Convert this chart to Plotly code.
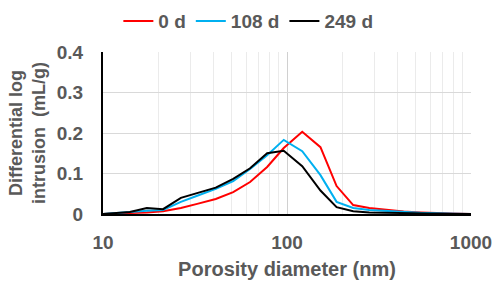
import plotly.graph_objects as go

diameter_nm = [10, 11.9, 14, 17.3, 21.2, 26.5, 32.5, 41, 51, 63, 78, 96, 121, 152, 186, 229, 280, 350, 430, 530, 650, 800, 1000]
series_names = ["0 d", "108 d", "249 d"]
d0 = [0, 0.001, 0.002, 0.004, 0.007, 0.015, 0.025, 0.037, 0.054, 0.079, 0.116, 0.163, 0.203, 0.165, 0.069, 0.022, 0.015, 0.010, 0.006, 0.004, 0.002, 0.001, 0]
d108 = [0, 0.003, 0.005, 0.008, 0.010, 0.030, 0.045, 0.062, 0.081, 0.111, 0.145, 0.183, 0.155, 0.096, 0.030, 0.015, 0.010, 0.007, 0.005, 0.003, 0.002, 0.001, 0]
d249 = [0, 0.003, 0.005, 0.015, 0.012, 0.040, 0.052, 0.065, 0.087, 0.113, 0.150, 0.156, 0.118, 0.058, 0.017, 0.007, 0.004, 0.003, 0.002, 0.001, 0.001, 0, 0]
colors = ["#FF0000", "#00B0F0", "#000000"]

fig = go.Figure()
for name, ys, c in zip(series_names, [d0, d108, d249], colors):
    fig.add_trace(go.Scatter(x=diameter_nm, y=ys, name="<b>" + name + "</b>", mode="lines",
                             line=dict(color=c, width=2)))

font_col = "#595959"
fam = "Liberation Sans, Arial, sans-serif"
fig.update_layout(
    width=495, height=283,
    margin=dict(l=103, r=24, t=52, b=69, autoexpand=False),
    paper_bgcolor="white", plot_bgcolor="white",
    font=dict(family=fam, size=19, color=font_col),
    legend=dict(orientation="h", x=0.395, xanchor="center", y=1.19, yanchor="middle",
                font=dict(family=fam, size=19, color=font_col),
                itemwidth=30, tracegroupgap=0),
    showlegend=True,
)
fig.update_xaxes(
    type="log", range=[1, 3], dtick=1, automargin=False,
    showgrid=True, gridcolor="#d0d0d0", gridwidth=1,
    minor=dict(dtick="D1", showgrid=True, gridcolor="#ebebeb", gridwidth=1),
    showline=True, linecolor="black", linewidth=2,
    ticks="", ticklabelstandoff=10, tickfont=dict(family=fam, size=19, color=font_col, weight="bold"),
    title=dict(text="<b>Porosity diameter (nm)</b>", font=dict(family=fam, size=20, color=font_col), standoff=10),
    zeroline=False,
)
fig.update_yaxes(
    range=[0, 0.4], dtick=0.1, tickformat=".1~f", automargin=False,
    showgrid=True, gridcolor="#d9d9d9", gridwidth=1,
    showline=True, linecolor="black", linewidth=2,
    ticks="", ticklabelstandoff=14, tickfont=dict(family=fam, size=19, color=font_col, weight="bold"),
    title=dict(text="<b>Differential log<br>intrusion  (mL/g)</b>", font=dict(family=fam, size=18, color=font_col), standoff=6),
    zeroline=False,
)
fig.write_html("out.html", config={"displayModeBar": False},
               post_script="document.body.style.margin='0';document.body.style.overflow='hidden';")
